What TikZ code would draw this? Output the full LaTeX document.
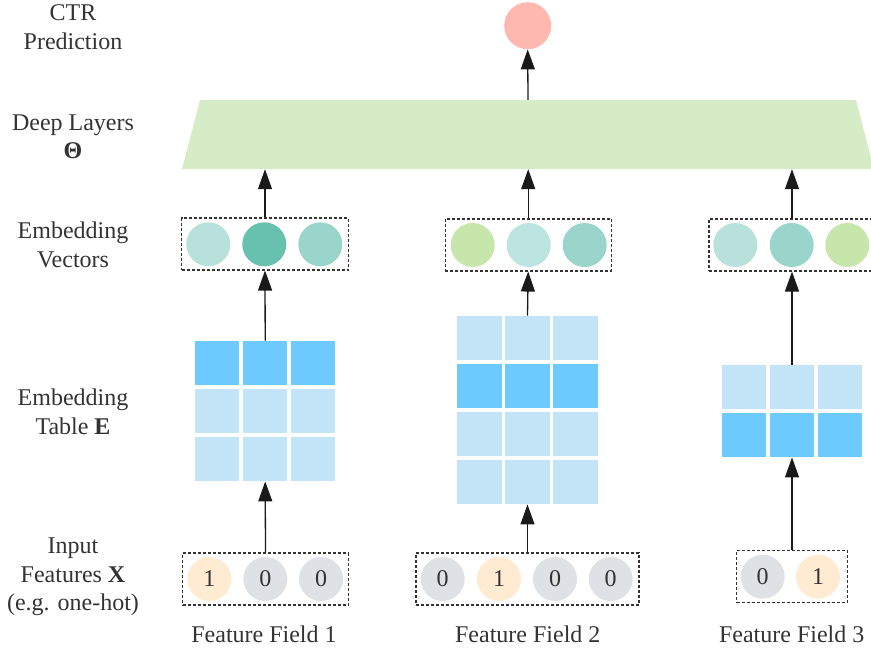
\documentclass[tikz,border=0pt]{standalone}
\usepackage{fontspec}
\setmainfont{Liberation Serif}
\usetikzlibrary{arrows.meta}

\definecolor{ink}{HTML}{333333}
\definecolor{linecol}{HTML}{1A1A1A}
\definecolor{ctrcol}{HTML}{FFB8B0}
\definecolor{deepcol}{HTML}{D5ECC6}
\definecolor{tealA}{HTML}{B7E1DA}
\definecolor{tealB}{HTML}{68C1AF}
\definecolor{tealC}{HTML}{99D5CA}
\definecolor{tealD}{HTML}{BCE4E0}
\definecolor{limecol}{HTML}{C7E6AB}
\definecolor{rowhot}{HTML}{6CCAFF}
\definecolor{rowcold}{HTML}{C2E4F6}
\definecolor{onecol}{HTML}{FEEBD2}
\definecolor{zerocol}{HTML}{DEE1E6}

\tikzset{
  lbl/.style={font=\fontsize{24}{28.5}\selectfont, text=ink, align=center},
  fieldlbl/.style={font=\fontsize{24}{28.5}\selectfont, text=ink},
  dot/.style={circle, draw=none, minimum size=44pt, inner sep=0pt,
              font=\fontsize{24}{28.5}\selectfont, text=ink},
  dashbox/.style={draw=ink, line width=1.1pt, dash pattern=on 3pt off 2pt,
                  minimum height=52pt, inner sep=0pt},
  cell/.style={minimum width=44.5pt, minimum height=44.5pt, inner sep=0pt, draw=none},
  flow/.style={draw=linecol, line width=1.3pt,
               -{Triangle[width=14pt,length=20pt]}},
}

\begin{document}
\begin{tikzpicture}[x=1pt,y=-1pt]
\useasboundingbox (0,0) rectangle (871,651);

% ---------- row captions ----------
\node[lbl] (capctr)  at (73,27)  {CTR\\Prediction};
\node[lbl] (capdeep) at (73,137) {Deep Layers\\\textbf{Θ}};
\node[lbl] (capemb)  at (73,245) {Embedding\\Vectors};
\node[lbl] (captab)  at (73,412) {Embedding\\Table \textbf{E}};
\node[lbl] (capin)   at (73,577) {Input\\Features \textbf{X}\\(e.g. one-hot)};

% ---------- output unit ----------
\node[dot, fill=ctrcol, minimum size=47pt] (ctr) at (527.7,25.7) {};

% ---------- deep layers ----------
\fill[deepcol] (200,100) -- (856,100) -- (874,169) -- (182,169) -- cycle;
\node[minimum width=656pt, minimum height=69pt, inner sep=0pt] (deep) at (528,134.5) {};

% ---------- embedding vectors ----------
\node[dashbox, minimum width=166.6pt] (e1) at (265,244) {};
\node[dot, fill=tealA] (e1a) at (208.3,244.3) {};
\node[dot, fill=tealB] (e1b) at (264.3,244.3) {};
\node[dot, fill=tealC] (e1c) at (320.3,244.3) {};

\node[dashbox, minimum width=166.3pt] (e2) at (528.2,245) {};
\node[dot, fill=limecol] (e2a) at (472.7,245) {};
\node[dot, fill=tealD]   (e2b) at (528.7,245) {};
\node[dot, fill=tealC]   (e2c) at (584.7,245) {};

\node[dashbox, minimum width=166pt] (e3) at (792,245) {};
\node[dot, fill=tealA]   (e3a) at (735.3,245) {};
\node[dot, fill=tealC]   (e3b) at (791.7,245) {};
\node[dot, fill=limecol] (e3c) at (847.3,245) {};

% ---------- embedding tables ----------
\foreach \r in {1,2,3}
  \foreach \c in {1,2,3}{
    \pgfmathsetmacro{\cx}{217.2+48*(\c-1)}
    \pgfmathsetmacro{\cy}{363+48*(\r-1)}
    \ifnum\r=1 \def\cc{rowhot}\else\def\cc{rowcold}\fi
    \node[cell, fill=\cc] (t1-\r-\c) at (\cx,\cy) {};
  }
\foreach \r in {1,2,3,4}
  \foreach \c in {1,2,3}{
    \pgfmathsetmacro{\cx}{479.5+48*(\c-1)}
    \pgfmathsetmacro{\cy}{338+48*(\r-1)}
    \ifnum\r=2 \def\cc{rowhot}\else\def\cc{rowcold}\fi
    \node[cell, fill=\cc] (t2-\r-\c) at (\cx,\cy) {};
  }
\foreach \r in {1,2}
  \foreach \c in {1,2,3}{
    \pgfmathsetmacro{\cx}{744+48*(\c-1)}
    \pgfmathsetmacro{\cy}{387+48*(\r-1)}
    \ifnum\r=2 \def\cc{rowhot}\else\def\cc{rowcold}\fi
    \node[cell, fill=\cc] (t3-\r-\c) at (\cx,\cy) {};
  }

% ---------- one-hot inputs ----------
\node[dashbox, minimum width=165.6pt] (x1) at (265.5,579) {};
\node[dot, fill=onecol]  (x1a) at (209.3,579) {1};
\node[dot, fill=zerocol] (x1b) at (265.3,579) {0};
\node[dot, fill=zerocol] (x1c) at (321,579)   {0};

\node[dashbox, minimum width=223pt] (x2) at (527.5,579) {};
\node[dot, fill=zerocol] (x2a) at (442.7,579) {0};
\node[dot, fill=onecol]  (x2b) at (499,579)   {1};
\node[dot, fill=zerocol] (x2c) at (555,579)   {0};
\node[dot, fill=zerocol] (x2d) at (610.7,579) {0};

\node[dashbox, minimum width=110.6pt] (x3) at (792,576.3) {};
\node[dot, fill=zerocol] (x3a) at (762.7,576.7) {0};
\node[dot, fill=onecol]  (x3b) at (818,576.7)   {1};

% ---------- field captions ----------
\node[fieldlbl] (f1) at (264,634)   {Feature Field 1};
\node[fieldlbl] (f2) at (527.8,634) {Feature Field 2};
\node[fieldlbl] (f3) at (791.7,634) {Feature Field 3};

% ---------- connectors ----------
\draw[flow] (deep.north) -- (ctr.south);

\draw[flow] (e1.north) -- (e1.north |- deep.south);
\draw[flow] (e2.north) -- (e2.north |- deep.south);
\draw[flow] (e3.north) -- (e3.north |- deep.south);

\draw[flow] (t1-1-2.north) -- (e1.south);
\draw[flow] (t2-1-2.north) -- (e2.south);
\draw[flow] (t3-1-2.north) -- (e3.south);

\draw[flow] (x1.north) -- (t1-3-2.south);
\draw[flow] (x2.north) -- (t2-4-2.south);
\draw[flow] (x3.north) -- (t3-2-2.south);
\end{tikzpicture}
\end{document}
